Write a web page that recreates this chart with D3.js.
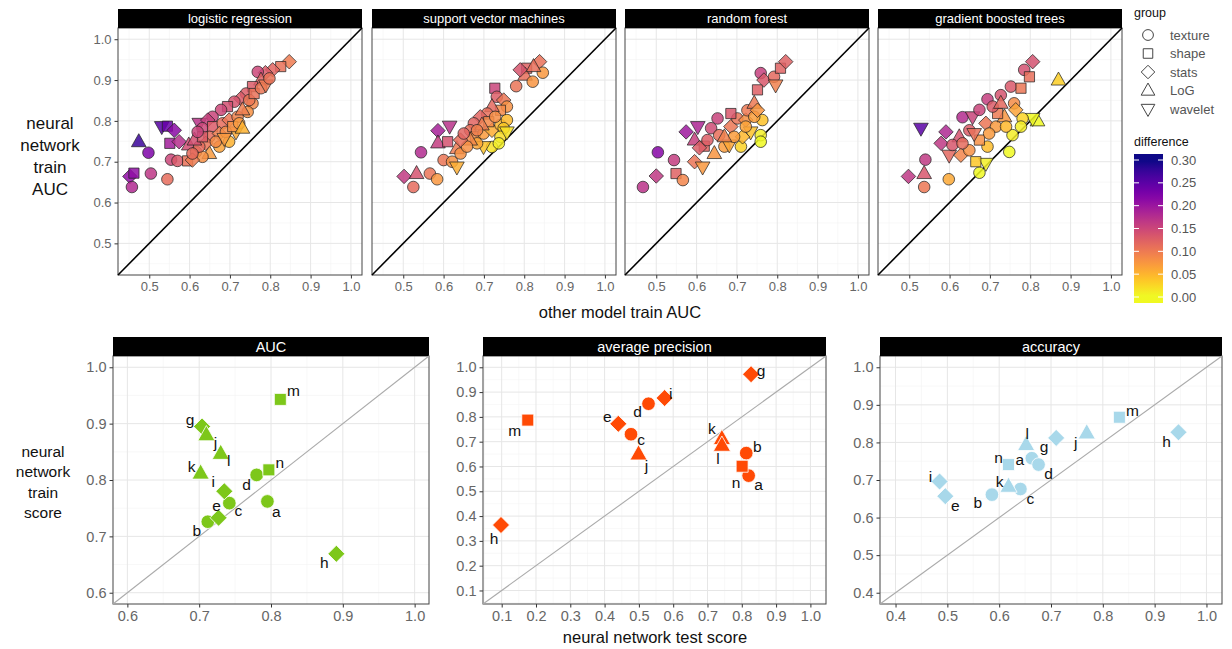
<!DOCTYPE html>
<html>
<head>
<meta charset="utf-8">
<script src="https://d3js.org/d3.v7.min.js"></script>
<style>
  body { margin: 0; background: #fff; }
  svg { font-family: "Liberation Sans", Arial, sans-serif; }
</style>
</head>
<body>
<svg id="chart" width="1232" height="649"></svg>
<script>
/* Data */
/* **** */

// group index: 0 texture, 1 shape, 2 stats, 3 LoG, 4 wavelet
var groups = ['texture', 'shape', 'stats', 'LoG', 'wavelet'];
var topModels = ['logistic regression', 'support vector machines', 'random forest', 'gradient boosted trees'];
var topTicks = [0.5, 0.6, 0.7, 0.8, 0.9, 1.0];
var diffTicks = [0.00, 0.05, 0.10, 0.15, 0.20, 0.25, 0.30];

// [other model train AUC, neural network train AUC, group]
var lrPoints = [
    [0.452,0.664,2],[0.457,0.638,0],[0.462,0.672,1],[0.474,0.749,3],[0.498,0.722,0],[0.504,0.671,0],[0.545,0.657,0],
    [0.531,0.786,4],[0.545,0.787,1],[0.562,0.777,2],[0.551,0.745,1],[0.574,0.749,2],[0.554,0.705,0],[0.570,0.702,0],
    [0.598,0.741,3],[0.595,0.702,1],[0.624,0.794,4],[0.616,0.724,0],
    [0.847,0.945,2],[0.826,0.933,1],[0.806,0.925,2],[0.788,0.918,2],[0.769,0.920,0],[0.777,0.900,3],[0.756,0.884,1],
    [0.740,0.867,0],[0.727,0.855,2],[0.711,0.847,0],[0.694,0.835,1],[0.678,0.827,0],[0.657,0.810,0],[0.645,0.802,2],
    [0.632,0.782,0],[0.756,0.843,0],[0.744,0.822,0],[0.715,0.773,4],[0.698,0.749,0],[0.674,0.737,0],[0.649,0.720,3],
    [0.632,0.712,0],[0.607,0.704,2],[0.657,0.786,1],[0.682,0.794,0],[0.698,0.802,2],[0.719,0.810,0],[0.731,0.827,3],
    [0.748,0.851,0],[0.760,0.867,1],[0.777,0.880,0],[0.789,0.888,4],[0.798,0.904,0],[0.649,0.761,0],[0.674,0.769,2],
    [0.690,0.773,0],[0.707,0.786,1],[0.723,0.794,0],[0.731,0.782,3],[0.640,0.745,2],[0.665,0.749,0],[0.686,0.757,4],
    [0.624,0.737,0],[0.612,0.753,3],[0.632,0.761,1],[0.620,0.773,0],[0.607,0.720,0]
];
var svmPoints = [
    [0.502,0.664,2],[0.525,0.638,0],[0.533,0.671,3],[0.544,0.723,0],[0.566,0.671,0],[0.584,0.657,0],[0.586,0.776,2],
    [0.586,0.746,3],[0.615,0.787,4],[0.610,0.749,1],[0.600,0.704,0],[0.621,0.700,0],[0.633,0.687,4],[0.633,0.732,3],
    [0.642,0.720,0],[0.727,0.880,1],[0.838,0.945,2],[0.806,0.929,1],[0.802,0.912,3],[0.846,0.918,0],[0.821,0.896,0],
    [0.780,0.885,0],[0.790,0.925,2],[0.823,0.933,3],[0.732,0.859,0],[0.749,0.851,2],[0.757,0.835,0],[0.741,0.826,1],
    [0.720,0.835,3],[0.708,0.818,0],[0.691,0.810,2],[0.675,0.794,0],[0.666,0.777,0],[0.679,0.761,1],[0.699,0.769,0],
    [0.720,0.777,2],[0.741,0.790,0],[0.757,0.802,0],[0.749,0.782,0],[0.741,0.761,0],[0.757,0.773,4],[0.720,0.736,0],
    [0.699,0.737,4],[0.737,0.745,0],[0.683,0.745,0],[0.666,0.753,3],[0.658,0.737,0],[0.642,0.753,2],[0.650,0.769,0],
    [0.712,0.798,1],[0.728,0.810,0],[0.695,0.790,3],[0.683,0.777,0]
];
var rfPoints = [
    [0.467,0.638,0],[0.500,0.665,2],[0.504,0.723,0],[0.544,0.704,0],[0.549,0.671,1],[0.566,0.655,0],[0.574,0.773,2],
    [0.603,0.786,4],[0.595,0.753,3],[0.595,0.700,2],[0.615,0.687,4],[0.636,0.782,0],[0.652,0.806,0],[0.656,0.765,0],
    [0.619,0.738,1],[0.644,0.720,3],[0.669,0.737,0],[0.685,0.786,2],[0.701,0.806,0],[0.722,0.802,2],[0.726,0.826,0],
    [0.743,0.843,3],[0.751,0.876,1],[0.759,0.917,0],[0.767,0.900,2],[0.792,0.908,0],[0.808,0.929,1],[0.821,0.945,2],
    [0.796,0.888,4],[0.763,0.802,0],[0.759,0.765,0],[0.759,0.749,0],[0.710,0.737,0],[0.734,0.773,4],[0.681,0.741,4],
    [0.714,0.761,2],[0.693,0.761,0],[0.669,0.761,3],[0.685,0.818,1],[0.743,0.810,0],[0.751,0.826,2],[0.627,0.753,0],
    [0.607,0.734,2],[0.722,0.786,0]
];
var gbtPoints = [
    [0.498,0.664,2],[0.537,0.671,3],[0.537,0.638,0],[0.540,0.705,0],[0.598,0.657,0],[0.529,0.782,4],[0.591,0.773,2],
    [0.579,0.745,2],[0.599,0.716,4],[0.632,0.809,0],[0.694,0.853,0],[0.727,0.863,0],[0.752,0.884,0],[0.785,0.925,0],
    [0.806,0.945,2],[0.798,0.908,1],[0.777,0.880,1],[0.760,0.843,0],[0.870,0.900,3],[0.818,0.800,3],[0.806,0.806,4],
    [0.781,0.806,0],[0.777,0.786,0],[0.756,0.765,0],[0.748,0.724,0],[0.674,0.673,0],[0.690,0.696,4],[0.665,0.700,1],
    [0.694,0.737,0],[0.657,0.810,4],[0.674,0.827,0],[0.690,0.794,2],[0.715,0.786,0],[0.736,0.810,3],[0.740,0.786,0],
    [0.719,0.818,1],[0.649,0.777,0],[0.624,0.761,3],[0.607,0.741,0],[0.628,0.716,2],[0.649,0.728,0],[0.674,0.753,1],
    [0.698,0.769,0],[0.661,0.769,4],[0.632,0.745,0],[0.764,0.827,2],[0.707,0.835,0],[0.727,0.843,3]
];

// bottom row: one point per feature
var metrics = ['AUC', 'average precision', 'accuracy'];
var features = ['a', 'b', 'c', 'd', 'e', 'g', 'h', 'i', 'j', 'k', 'l', 'm', 'n'];
var featureGroup = [0, 0, 0, 0, 2, 2, 2, 2, 3, 3, 3, 1, 1];
var aucTest  = [0.795, 0.712, 0.742, 0.780, 0.727, 0.704, 0.891, 0.735, 0.710, 0.702, 0.730, 0.813, 0.797];
var aucTrain = [0.762, 0.726, 0.759, 0.809, 0.733, 0.895, 0.669, 0.780, 0.880, 0.812, 0.847, 0.943, 0.818];
var apTest   = [0.820, 0.813, 0.477, 0.528, 0.440, 0.827, 0.098, 0.575, 0.499, 0.742, 0.742, 0.176, 0.801];
var apTrain  = [0.563, 0.654, 0.730, 0.853, 0.772, 0.972, 0.364, 0.876, 0.650, 0.712, 0.685, 0.787, 0.601];
var accTest  = [0.663, 0.586, 0.641, 0.676, 0.496, 0.710, 0.946, 0.485, 0.769, 0.618, 0.652, 0.832, 0.618];
var accTrain = [0.758, 0.661, 0.676, 0.741, 0.657, 0.812, 0.827, 0.696, 0.825, 0.683, 0.794, 0.867, 0.741];
var aucTicks = [0.6, 0.7, 0.8, 0.9, 1.0];
var apTicks = [0.1, 0.2, 0.3, 0.4, 0.5, 0.6, 0.7, 0.8, 0.9, 1.0];
var accTicks = [0.4, 0.5, 0.6, 0.7, 0.8, 0.9, 1.0];

/* Layout */
/* ****** */
var svg = d3.select('#chart');
var stripH = 19;

var topPanels = [118, 372, 625, 878].map(function (x0) {
    return { x0: x0, y0: 28, w: 244, h: 247, font: 13 };
});
var topDomain = [0.4225, 1.0275];

var bottomPanels = [
    { x0: 113, y0: 356, w: 316, h: 248, font: 14.5, domain: [0.58, 1.02], ticks: aucTicks,
      test: aucTest, train: aucTrain, color: '#7dc71a',
      shift: [[9,10],[-11,9],[9,7],[-10,10],[-2,-12],[-12,-7],[-12,9],[-11,-10],[9,8],[-9,-7],[8,7],[13,-9],[11,-7]] },
    { x0: 483, y0: 356, w: 343, h: 248, font: 14.5, domain: [0.0455, 1.0455], ticks: apTicks,
      test: apTest, train: apTrain, color: '#ff4a05',
      shift: [[10,9],[11,-7],[10,5],[-11,8],[-11,-7],[10,-4],[-7,13],[6,-5],[8,11],[-10,-10],[-4,13],[-13,10],[-6,16]] },
    { x0: 880, y0: 356, w: 342, h: 248, font: 14.5, domain: [0.37, 1.03], ticks: accTicks,
      test: accTest, train: accTrain, color: '#a8d8ea',
      shift: [[-12,1],[-14,8],[10,9],[10,9],[10,9],[-12,9],[-12,9],[-9,-5],[-11,9],[-9,-5],[1,-11],[13,-7],[-10,-7]] }
];

/* Helpers */
/* ******* */
var diffColor = function (d) {
    var t = Math.max(0, Math.min(1, d / 0.3));
    return d3.interpolatePlasma(1 - t);
};

var shapePath = function (g, r) {
    var h;
    switch (g) {
        case 1:
            h = r * 0.88;
            return 'M' + -h + ',' + -h + 'H' + h + 'V' + h + 'H' + -h + 'Z';
        case 2:
            h = r * 1.25;
            return 'M0,' + -h + 'L' + h + ',0L0,' + h + 'L' + -h + ',0Z';
        case 3:
            h = r * 1.15;
            return 'M0,' + (-1.2 * h) + 'L' + (1.1 * h) + ',' + (0.75 * h) + 'L' + (-1.1 * h) + ',' + (0.75 * h) + 'Z';
        case 4:
            h = r * 1.15;
            return 'M0,' + (1.2 * h) + 'L' + (1.1 * h) + ',' + (-0.75 * h) + 'L' + (-1.1 * h) + ',' + (-0.75 * h) + 'Z';
        default:
            return d3.symbol(d3.symbolCircle, Math.PI * r * r)();
    }
};

// panel background, grid, border, strip; returns the scales
var drawPanel = function (p, domain, ticks, title, showY) {
    var x = d3.scaleLinear().domain(domain).range([p.x0, p.x0 + p.w]);
    var y = d3.scaleLinear().domain(domain).range([p.y0 + p.h, p.y0]);
    var g = svg.append('g');

    var step = ticks[1] - ticks[0];
    var minor = [ticks[0] - step / 2].concat(ticks.map(function (t) { return t + step / 2; }))
        .filter(function (t) { return t > domain[0] && t < domain[1]; });

    g.selectAll('line.minx').data(minor).enter().append('line')
        .attr('x1', x).attr('x2', x).attr('y1', p.y0).attr('y2', p.y0 + p.h)
        .attr('stroke', '#f3f3f3').attr('stroke-width', 0.6);
    g.selectAll('line.miny').data(minor).enter().append('line')
        .attr('y1', y).attr('y2', y).attr('x1', p.x0).attr('x2', p.x0 + p.w)
        .attr('stroke', '#f3f3f3').attr('stroke-width', 0.6);
    g.selectAll('line.majx').data(ticks).enter().append('line')
        .attr('x1', x).attr('x2', x).attr('y1', p.y0).attr('y2', p.y0 + p.h)
        .attr('stroke', '#e6e6e6').attr('stroke-width', 1);
    g.selectAll('line.majy').data(ticks).enter().append('line')
        .attr('y1', y).attr('y2', y).attr('x1', p.x0).attr('x2', p.x0 + p.w)
        .attr('stroke', '#e6e6e6').attr('stroke-width', 1);

    var ax = g.append('g')
        .attr('transform', 'translate(0,' + (p.y0 + p.h) + ')')
        .call(d3.axisBottom(x).tickValues(ticks).tickSize(3.5).tickFormat(d3.format('.1f')));
    var axes = [ax];
    if (showY) {
        axes.push(g.append('g')
            .attr('transform', 'translate(' + p.x0 + ',0)')
            .call(d3.axisLeft(y).tickValues(ticks).tickSize(3.5).tickFormat(d3.format('.1f'))));
    }
    axes.forEach(function (a) {
        a.select('.domain').remove();
        a.selectAll('line').attr('stroke', '#333');
        a.selectAll('text').attr('fill', '#666').style('font-size', p.font + 'px');
    });

    g.append('rect')
        .attr('x', p.x0).attr('y', p.y0).attr('width', p.w).attr('height', p.h)
        .attr('fill', 'none').attr('stroke', '#444').attr('stroke-width', 1);

    g.append('rect')
        .attr('x', p.x0).attr('y', p.y0 - stripH).attr('width', p.w).attr('height', stripH)
        .attr('fill', '#000');
    g.append('text')
        .attr('x', p.x0 + p.w / 2).attr('y', p.y0 - stripH / 2)
        .attr('text-anchor', 'middle').attr('dominant-baseline', 'central')
        .attr('fill', '#fff').style('font-size', p.font + 'px')
        .text(title);

    return { x: x, y: y, g: g };
};

/* Top row: neural network vs other models */
/* *************************************** */
[lrPoints, svmPoints, rfPoints, gbtPoints].forEach(function (pts, i) {
    var s = drawPanel(topPanels[i], topDomain, topTicks, topModels[i], i === 0);

    s.g.append('line')
        .attr('x1', s.x(topDomain[0])).attr('y1', s.y(topDomain[0]))
        .attr('x2', s.x(topDomain[1])).attr('y2', s.y(topDomain[1]))
        .attr('stroke', '#000').attr('stroke-width', 1.6);

    s.g.selectAll('path.pt').data(pts).enter().append('path')
        .attr('class', 'pt')
        .attr('transform', function (d) { return 'translate(' + s.x(d[0]) + ',' + s.y(d[1]) + ')'; })
        .attr('d', function (d) { return shapePath(d[2], 5.8); })
        .attr('fill', function (d) { return diffColor(d[1] - d[0]); })
        .attr('fill-opacity', 0.85)
        .attr('stroke', '#222').attr('stroke-opacity', 0.8).attr('stroke-width', 0.9);
});

var multiLine = function (lines, cx, cy, gap, size) {
    var t = svg.append('text')
        .attr('text-anchor', 'middle').attr('fill', '#111').style('font-size', size + 'px');
    lines.forEach(function (l, i) {
        t.append('tspan').attr('x', cx)
            .attr('y', cy + (i - (lines.length - 1) / 2) * gap)
            .attr('dominant-baseline', 'central')
            .text(l);
    });
};

multiLine(['neural', 'network', 'train', 'AUC'], 50, 156, 22, 17);
svg.append('text')
    .attr('x', 620).attr('y', 312).attr('text-anchor', 'middle').attr('dominant-baseline', 'central')
    .attr('fill', '#111').style('font-size', '16.5px')
    .text('other model train AUC');

/* Legend */
/* ****** */
var legend = svg.append('g');
legend.append('text').attr('x', 1134).attr('y', 13).attr('dominant-baseline', 'central')
    .style('font-size', '12.5px').attr('fill', '#111').text('group');
legend.selectAll('path.key').data(groups).enter().append('path')
    .attr('transform', function (d, i) { return 'translate(1148,' + (35 + i * 18.5) + ')'; })
    .attr('d', function (d, i) { return shapePath(i, 5.4); })
    .attr('fill', 'none').attr('stroke', '#444').attr('stroke-width', 1);
legend.selectAll('text.key').data(groups).enter().append('text')
    .attr('x', 1170).attr('y', function (d, i) { return 35 + i * 18.5; })
    .attr('dominant-baseline', 'central').style('font-size', '13px').attr('fill', '#555')
    .text(function (d) { return d; });

legend.append('text').attr('x', 1134).attr('y', 142).attr('dominant-baseline', 'central')
    .style('font-size', '12.5px').attr('fill', '#111').text('difference');

var barScale = d3.scaleLinear().domain([0, 0.3]).range([297, 160]);
var grad = svg.append('defs').append('linearGradient')
    .attr('id', 'diffGrad').attr('x1', 0).attr('y1', 1).attr('x2', 0).attr('y2', 0);
d3.range(0, 1.0001, 0.05).forEach(function (t) {
    grad.append('stop').attr('offset', t).attr('stop-color', diffColor(t * 0.33 - 0.015));
});
legend.append('rect')
    .attr('x', 1134).attr('y', 154).attr('width', 29).attr('height', 149)
    .attr('fill', 'url(#diffGrad)');
diffTicks.forEach(function (t) {
    [[1134, 1139], [1158, 1163]].forEach(function (e) {
        legend.append('line').attr('x1', e[0]).attr('x2', e[1])
            .attr('y1', barScale(t)).attr('y2', barScale(t))
            .attr('stroke', '#fff').attr('stroke-width', 1);
    });
});
legend.selectAll('text.tick').data(diffTicks).enter().append('text')
    .attr('x', 1171).attr('y', barScale)
    .attr('dominant-baseline', 'central').style('font-size', '13px').attr('fill', '#555')
    .text(d3.format('.2f'));

/* Bottom row: neural network test vs train score */
/* ********************************************** */
bottomPanels.forEach(function (p, i) {
    var s = drawPanel(p, p.domain, p.ticks, metrics[i], true);

    s.g.append('line')
        .attr('x1', s.x(p.domain[0])).attr('y1', s.y(p.domain[0]))
        .attr('x2', s.x(p.domain[1])).attr('y2', s.y(p.domain[1]))
        .attr('stroke', '#aaa').attr('stroke-width', 1.1);

    s.g.selectAll('path.pt').data(features).enter().append('path')
        .attr('transform', function (d, j) { return 'translate(' + s.x(p.test[j]) + ',' + s.y(p.train[j]) + ')'; })
        .attr('d', function (d, j) { return shapePath(featureGroup[j], 6.8); })
        .attr('fill', p.color)
        .attr('stroke', '#fff').attr('stroke-width', 0.8);

    s.g.selectAll('text.lab').data(features).enter().append('text')
        .attr('x', function (d, j) { return s.x(p.test[j]) + p.shift[j][0]; })
        .attr('y', function (d, j) { return s.y(p.train[j]) + p.shift[j][1]; })
        .attr('text-anchor', 'middle').attr('dominant-baseline', 'central')
        .style('font-size', '15.5px').attr('fill', '#111')
        .text(function (d) { return d; });
});

multiLine(['neural', 'network', 'train', 'score'], 43, 482, 20.5, 15.5);
svg.append('text')
    .attr('x', 655).attr('y', 637).attr('text-anchor', 'middle').attr('dominant-baseline', 'central')
    .attr('fill', '#111').style('font-size', '16.5px')
    .text('neural network test score');
</script>
</body>
</html>
